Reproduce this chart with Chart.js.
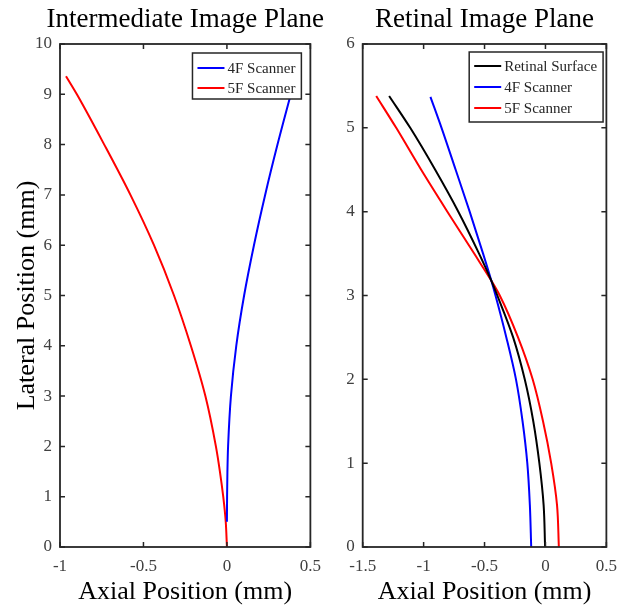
<!DOCTYPE html>
<html><head><meta charset="utf-8">
<script src="https://cdn.jsdelivr.net/npm/chart.js@4/dist/chart.umd.min.js"></script>
<style>
html,body{margin:0;padding:0;background:#fff;}
#wrap{position:relative;width:626px;height:609px;overflow:hidden;}
#c1{position:absolute;left:0;top:0;width:330px;height:609px;}
#c2{position:absolute;left:330px;top:0;width:296px;height:609px;}
</style></head><body>
<div id="wrap"><canvas id="c1" width="330" height="609"></canvas><canvas id="c2" width="296" height="609"></canvas></div>
<script>
// ---------- Intermediate Image Plane ----------
const intTitle = 'Intermediate Image Plane';
const int4FLateral = [0.5, 1, 1.5, 2, 3, 4, 5, 6, 7, 8, 9, 9.36];
const int4FAxial   = [0.0, 0.001, 0.003, 0.007, 0.024, 0.056, 0.103, 0.162, 0.229, 0.303, 0.383, 0.413];
const int5FLateral = [0, 0.5, 1, 1.5, 2, 3, 4, 5, 6, 7, 8, 9, 9.36];
const int5FAxial   = [0, -0.007, -0.022, -0.042, -0.066, -0.129, -0.216, -0.317, -0.437, -0.578, -0.735, -0.899, -0.964];
const intXTicks = [-1, -0.5, 0, 0.5];
const intYTicks = [0, 1, 2, 3, 4, 5, 6, 7, 8, 9, 10];

// ---------- Retinal Image Plane ----------
const retTitle = 'Retinal Image Plane';
const retSurfLateral = [0, 0.5, 1, 1.5, 2, 2.5, 3, 3.19, 3.5, 4, 4.5, 5, 5.38];
const retSurfAxial   = [-0.003, -0.015, -0.05, -0.10, -0.17, -0.265, -0.395, -0.448, -0.545, -0.715, -0.905, -1.11, -1.283];
const ret4FLateral = [0, 0.5, 1, 1.5, 2, 2.5, 3, 3.19, 3.5, 4, 4.5, 5, 5.37];
const ret4FAxial   = [-0.117, -0.128, -0.149, -0.188, -0.242, -0.321, -0.41, -0.447, -0.512, -0.622, -0.737, -0.853, -0.944];
const ret5FLateral = [0, 0.5, 1, 1.5, 2, 2.5, 3, 3.19, 3.5, 4, 4.5, 5, 5.38];
const ret5FAxial   = [0.11, 0.095, 0.047, -0.02, -0.105, -0.225, -0.375, -0.45, -0.585, -0.805, -1.02, -1.225, -1.389];
const retXTicks = [-1.5, -1, -0.5, 0, 0.5];
const retYTicks = [0, 1, 2, 3, 4, 5, 6];

const seriesNames = ['Retinal Surface', '4F Scanner', '5F Scanner'];
const xLabel = 'Axial Position (mm)';
const yLabel = 'Lateral Position (mm)';

const FONT = '"Liberation Serif", "Times New Roman", Times, serif';
const AXC = '#262626';

function pts(ax, lat) { return ax.map((v, i) => ({x: v, y: lat[i]})); }
function ds(label, color, ax, lat) {
  return {label, data: pts(ax, lat), borderColor: color, backgroundColor: color,
    indexAxis: 'y', cubicInterpolationMode: 'monotone',
    showLine: true, pointRadius: 0, borderWidth: 2, fill: false};
}

function panelPlugin(title, legendCfg) {
  return {
    id: 'panel',
    afterDatasetsDraw(chart) {
      const {ctx, chartArea: a, scales: {x, y}} = chart;
      ctx.save();
      ctx.strokeStyle = AXC;
      ctx.lineWidth = 1.5;
      ctx.beginPath();
      x.ticks.forEach(t => {
        const px = x.getPixelForValue(t.value);
        ctx.moveTo(px, a.bottom); ctx.lineTo(px, a.bottom - 5);
        ctx.moveTo(px, a.top); ctx.lineTo(px, a.top + 5);
      });
      y.ticks.forEach(t => {
        const py = y.getPixelForValue(t.value);
        ctx.moveTo(a.left, py); ctx.lineTo(a.left + 5, py);
        ctx.moveTo(a.right, py); ctx.lineTo(a.right - 5, py);
      });
      ctx.stroke();
      ctx.lineWidth = 1.8;
      ctx.strokeRect(a.left, a.top, a.right - a.left, a.bottom - a.top);
      ctx.restore();
    },
    afterDraw(chart) {
      const {ctx, chartArea: a} = chart;
      ctx.save();
      // title
      ctx.font = '27px ' + FONT;
      ctx.fillStyle = '#000';
      ctx.textAlign = 'center';
      ctx.textBaseline = 'alphabetic';
      ctx.fillText(title, (a.left + a.right) / 2, 27);
      // legend
      const dsets = chart.data.datasets;
      ctx.font = '15px ' + FONT;
      const tw = Math.max(...dsets.map(d => ctx.measureText(d.label).width));
      const lineLen = 27;
      const w = 5 + lineLen + 3 + tw + 6;
      const h = legendCfg.rowH * dsets.length + legendCfg.extra;
      const bx = a.right - legendCfg.insetRight - w;
      const by = a.top + legendCfg.insetTop;
      ctx.fillStyle = '#fff';
      ctx.fillRect(bx, by, w, h);
      ctx.strokeStyle = AXC; ctx.lineWidth = 1.5;
      ctx.strokeRect(bx, by, w, h);
      dsets.forEach((d, i) => {
        const cy = by + legendCfg.first + legendCfg.rowH * i;
        ctx.strokeStyle = d.borderColor; ctx.lineWidth = 2;
        ctx.beginPath(); ctx.moveTo(bx + 5, cy); ctx.lineTo(bx + 5 + lineLen, cy); ctx.stroke();
        ctx.fillStyle = AXC; ctx.textAlign = 'left'; ctx.textBaseline = 'middle';
        ctx.fillText(d.label, bx + 5 + lineLen + 3, cy + 1);
      });
      ctx.restore();
    }
  };
}

function makeScales(xmin, xmax, xt, ymin, ymax, yt, yWidth) {
  const tickFont = {family: FONT, size: 17};
  return {
    x: {
      type: 'linear', min: xmin, max: xmax,
      afterBuildTicks: s => { s.ticks = xt.map(v => ({value: v})); },
      ticks: {font: tickFont, color: '#404040', padding: 9, maxRotation: 0, autoSkip: false,
        callback: v => String(v)},
      grid: {display: false, drawTicks: false}, border: {display: false},
      title: {display: true, text: xLabel, color: '#000', font: {family: FONT, size: 26},
        padding: {top: 0, bottom: 1.5}},
      afterFit: s => { s.height = 62; }
    },
    y: {
      type: 'linear', min: ymin, max: ymax,
      afterBuildTicks: s => { s.ticks = yt.map(v => ({value: v})); },
      ticks: {font: tickFont, color: '#404040', padding: 8, autoSkip: false,
        callback: v => String(v)},
      grid: {display: false, drawTicks: false}, border: {display: false},
      title: {display: yWidth > 50, text: yLabel, color: '#000', font: {family: FONT, size: 26},
        padding: {top: 11.5, bottom: 0}},
      afterFit: s => { s.width = yWidth; }
    }
  };
}

new Chart(document.getElementById('c1'), {
  type: 'scatter',
  data: {datasets: [
    ds(seriesNames[1], '#0000ff', int4FAxial, int4FLateral),
    ds(seriesNames[2], '#ff0000', int5FAxial, int5FLateral)
  ]},
  options: {
    responsive: false, animation: false, devicePixelRatio: 1,
    layout: {padding: {top: 44, right: 19, left: 0, bottom: 0}},
    plugins: {legend: {display: false}, tooltip: {enabled: false}},
    scales: makeScales(-1, 0.5, intXTicks, 0, 10, intYTicks, 60)
  },
  plugins: [panelPlugin(intTitle, {rowH: 20, extra: 6, first: 15, insetRight: 9, insetTop: 9})]
});

new Chart(document.getElementById('c2'), {
  type: 'scatter',
  data: {datasets: [
    ds(seriesNames[0], '#000000', retSurfAxial, retSurfLateral),
    ds(seriesNames[1], '#0000ff', ret4FAxial, ret4FLateral),
    ds(seriesNames[2], '#ff0000', ret5FAxial, ret5FLateral)
  ]},
  options: {
    responsive: false, animation: false, devicePixelRatio: 1,
    layout: {padding: {top: 44, right: 11.7, left: 0, bottom: 0}},
    plugins: {legend: {display: false}, tooltip: {enabled: false}},
    scales: makeScales(-1.5, 0.5, retXTicks, 0, 6, retYTicks, 32.7)
  },
  plugins: [panelPlugin(retTitle, {rowH: 21, extra: 7, first: 14, insetRight: 3.3, insetTop: 8})]
});
</script>
</body></html>
